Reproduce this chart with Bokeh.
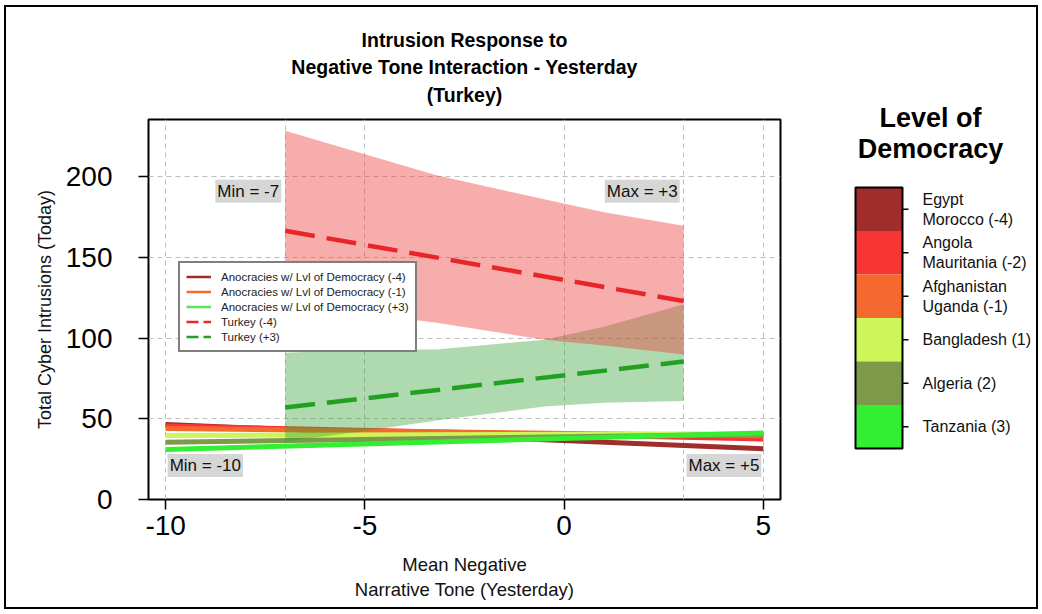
import math

from bokeh.plotting import figure
from bokeh.models import Range1d, FixedTicker, Legend, LegendItem, Label, Title
from bokeh.layouts import row
from bokeh.embed import file_html
from bokeh.resources import INLINE
from bokeh.core.properties import value

# ---- data ---------------------------------------------------------------
# Anocracies: predicted intrusions at the observed tone extremes
tone_range = [-10, 5]
anoc_levels = [-4, -2, -1, 1, 2, 3]
anoc_names = ["Egypt\nMorocco (-4)", "Angola\nMauritania (-2)", "Afghanistan\nUganda (-1)",
              "Bangladesh (1)", "Algeria (2)", "Tanzania (3)"]
anoc_colors = ["#A02C2C", "#F83535", "#F5692E", "#CDF65A", "#7D9A4A", "#33EE33"]
anoc_at_min = [46.5, 45.5, 44.0, 39.6, 35.5, 31.0]
anoc_at_max = [31.5, 37.5, 39.5, 40.8, 40.5, 41.2]

# Turkey: predicted intrusions over its own tone range
turkey_tone = [-7, 3]
turkey_low_dem = [166.5, 123.0]     # democracy level -4
turkey_high_dem = [57.0, 85.5]      # democracy level +3

# Confidence bands for Turkey
band_tone = [-7, -5, -3.2, -0.5, 1, 3]
low_dem_upper = [228.5, 214.0, 201.0, 186.0, 178.0, 169.7]
low_dem_lower = [121.0, 115.0, 109.6, 99.0, 95.5, 89.8]
high_dem_upper = [91.0, 92.8, 93.0, 99.0, 107.0, 121.0]
high_dem_lower = [36.0, 42.4, 49.0, 57.6, 60.0, 61.0]

x_ticks = [-10, -5, 0, 5]
x_tick_labels = ["-10", "-5", "0", "5"]
y_ticks = [0, 50, 100, 150, 200]
x_grid = [-10, -7, -5, 0, 3, 5]
y_grid = [50, 100, 150, 200]

title_lines = ["Intrusion Response to", "Negative Tone Interaction - Yesterday", "(Turkey)"]
key_title = ["Level of", "Democracy"]

FONT = "Liberation Sans"

# ---- main panel ---------------------------------------------------------
p = figure(width=794, height=600, x_range=Range1d(-10.43, 5.43), y_range=Range1d(0, 235.5),
           toolbar_location=None, output_backend="svg", title=None,
           min_border_left=142, min_border_right=20, min_border_top=112, min_border_bottom=108)
p.outline_line_color = "black"
p.outline_line_width = 2
p.background_fill_color = "white"
p.border_fill_color = "white"

# stacked title lines: the first one added sits closest to the frame
def title_line(text, gap):
    t = Title(text=text, align="center", text_font=FONT, text_font_size="19.5px",
              text_font_style="bold", text_color="black")
    try:
        t.standoff = gap
    except ValueError:
        t.standoff = max(gap, 1)
    return t

title_standoffs = [28, -21, 28]
for line, gap in zip(reversed(title_lines), title_standoffs):
    p.add_layout(title_line(line, gap), "above")

p.xaxis.ticker = FixedTicker(ticks=x_ticks)
p.xaxis.major_label_overrides = dict(zip(x_ticks, x_tick_labels))
p.yaxis.ticker = FixedTicker(ticks=y_ticks)
p.xgrid.ticker = FixedTicker(ticks=x_grid)
p.ygrid.ticker = FixedTicker(ticks=y_grid)
for g in (p.xgrid, p.ygrid):
    g.grid_line_color = "#BEBEBE"
    g.grid_line_dash = "5 4"
    g.grid_line_width = 1

for ax in (p.xaxis, p.yaxis):
    ax.axis_line_color = None
    ax.major_tick_line_color = "black"
    ax.major_tick_line_width = 1.5
    ax.major_tick_out = 10
    ax.major_tick_in = 0
    ax.minor_tick_line_color = None
    ax.major_label_text_font = FONT
    ax.major_label_text_font_size = "28px"
    ax.major_label_text_color = "black"
    ax.axis_label_text_font = FONT
    ax.axis_label_text_font_style = "normal"
    ax.axis_label_text_color = "#111111"

p.xaxis.major_label_standoff = 6
p.yaxis.major_label_standoff = 26
p.xaxis.axis_label = "Mean Negative\nNarrative Tone (Yesterday)"
p.xaxis.axis_label_text_font_size = "18.5px"
p.xaxis.axis_label_text_line_height = 1.2
p.xaxis.axis_label_standoff = 16
p.yaxis.axis_label = "Total Cyber Intrusions (Today)"
p.yaxis.axis_label_text_font_size = "18px"
p.yaxis.axis_label_standoff = 8

# anocracy lines
for c, a, b in zip(anoc_colors, anoc_at_min, anoc_at_max):
    p.line(tone_range, [a, b], line_color=c, line_width=5)

# Turkey confidence bands
p.varea(x=band_tone, y1=high_dem_lower, y2=high_dem_upper, fill_color="#2E9E2E", fill_alpha=0.38)
p.varea(x=band_tone, y1=low_dem_lower, y2=low_dem_upper, fill_color="#EE3B3B", fill_alpha=0.42)

# Turkey predictions
p.line(turkey_tone, turkey_low_dem, line_color="#E8262A", line_width=4.5, line_dash="30 12")
p.line(turkey_tone, turkey_high_dem, line_color="#22A022", line_width=4.5, line_dash="30 12")

# range annotations
def range_note(x, y, text, align, dx):
    p.add_layout(Label(x=x, y=y, text=text, text_align=align, text_baseline="middle",
                       x_offset=dx, text_font=FONT, text_font_size="17px", text_color="#111111",
                       background_fill_color="#D6D6D6", padding=2))

range_note(-7, 191, "Min = -7", "right", -4)
range_note(3, 191, "Max = +3", "right", -4)
range_note(-10, 21, "Min = -10", "left", 2)
range_note(5, 21, "Max = +5", "right", -2)

# legend keys drawn with thin strokes (no visible data of their own)
leg_specs = [
    ("Anocracies w/ Lvl of Democracy (-4)", anoc_colors[0], None),
    ("Anocracies w/ Lvl of Democracy (-1)", anoc_colors[2], None),
    ("Anocracies w/ Lvl of Democracy (+3)", "#5EE35E", None),
    ("Turkey (-4)", "#E8262A", "12 5"),
    ("Turkey (+3)", "#22A022", "12 5"),
]
items = []
for lab, col, dash in leg_specs:
    kw = dict(line_color=col, line_width=2.5)
    if dash:
        kw["line_dash"] = dash
    r = p.line([math.nan, math.nan], [math.nan, math.nan], **kw)
    items.append(LegendItem(label=lab, renderers=[r]))

legend = Legend(items=items, location=(30, 147), border_line_color="black", border_line_width=2,
                background_fill_color="white", background_fill_alpha=1,
                label_text_font=FONT, label_text_font_size="11.5px", label_text_color="#222222",
                glyph_width=25, glyph_height=15, label_height=15, spacing=0, padding=6,
                margin=0, label_standoff=10)
p.add_layout(legend, "center")

# ---- democracy colour key --------------------------------------------------
# a borderless panel whose data coordinates are its own pixel coordinates
q = figure(width=236, height=600, x_range=Range1d(0, 236), y_range=Range1d(600, 0),
           toolbar_location=None, output_backend="svg", min_border=0,
           x_axis_location=None, y_axis_location=None)
q.outline_line_color = None
q.grid.visible = False
q.border_fill_color = "white"
for fig in (p, q):
    if "frame_align" in fig.properties():
        fig.frame_align = False

key_top, key_h = 180, 43.5
tops = [key_top + i * key_h for i in range(len(anoc_levels))]
bots = [t + key_h for t in tops]
mids = [t + key_h / 2 for t in tops]
q.quad(left=55, right=102, top=tops, bottom=bots, fill_color=anoc_colors, line_color=None)
q.quad(left=55, right=102, top=key_top, bottom=bots[-1], fill_color=None,
       line_color="black", line_width=2)
q.segment(x0=102, x1=108, y0=mids, y1=mids, line_color="black", line_width=1.5)
q.text(x=122, y=mids, text=anoc_names, text_baseline="middle", text_align="left",
       text_font=value(FONT), text_font_size="16px", text_line_height=1.2, text_color="#111111")
q.text(x=130, y=[110, 141], text=key_title, text_baseline="middle", text_align="center",
       text_font=value(FONT), text_font_size="27px", text_font_style="bold", text_color="black")

layout = row(p, q, margin=(5, 0, 0, 4), styles={"border": "2px solid black"})

open("out.html", "w").write(file_html(layout, INLINE))
